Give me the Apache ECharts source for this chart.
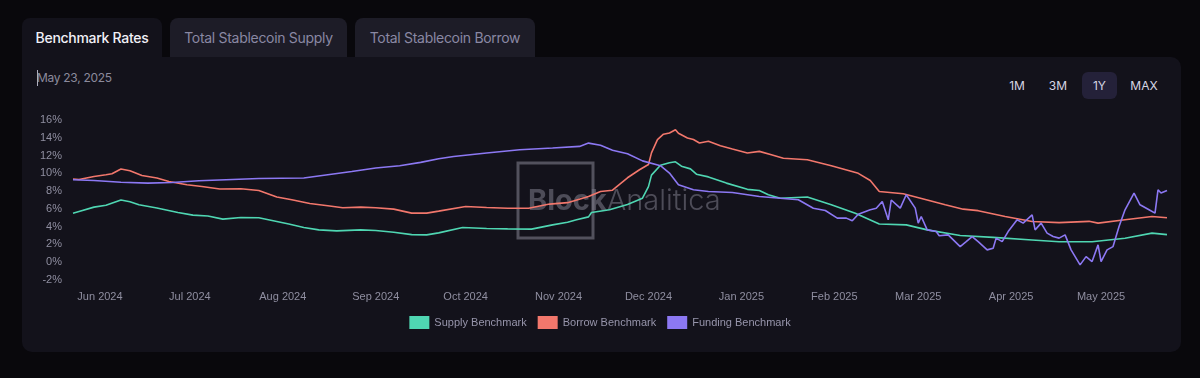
<!DOCTYPE html>
<html><head><meta charset="utf-8">
<script src="https://cdn.jsdelivr.net/npm/echarts@6/dist/echarts.min.js"></script>
<style>
html,body{margin:0;padding:0;background:#09080c;width:1200px;height:378px;overflow:hidden;font-family:Inter,"Noto Sans",sans-serif;}
.tab{position:absolute;top:18px;height:40px;border-radius:8px 8px 0 0;font-size:14px;line-height:39px;box-sizing:border-box;text-align:center;letter-spacing:-0.3px;}
.active{left:22px;width:140px;background:#13121b;color:#f1f0f7;font-weight:500;}
.inact{background:#1d1c27;color:#8a88a3;}
#panel{position:absolute;left:22px;top:57px;width:1159px;height:295px;background:#13121b;border-radius:0 10px 10px 10px;}
#date{position:absolute;left:37px;top:70px;font-size:12px;color:#8b8a9c;letter-spacing:-0.3px;}
#caret{position:absolute;left:37px;top:70px;width:1px;height:16px;background:#b0afc0;}
.btn{position:absolute;top:72px;height:27px;line-height:27px;font-size:12px;color:#d6d5e3;text-align:center;border-radius:6px;}
#chart{position:absolute;left:0;top:0;width:1200px;height:378px;z-index:2;}
</style></head>
<body>
<div class="tab active">Benchmark Rates</div>
<div class="tab inact" style="left:170px;width:177px;">Total Stablecoin Supply</div>
<div class="tab inact" style="left:355px;width:180px;">Total Stablecoin Borrow</div>
<div id="panel"></div>
<div id="caret"></div>
<div id="date">May 23, 2025</div>
<div class="btn" style="left:1002px;width:30px;">1M</div>
<div class="btn" style="left:1043px;width:30px;">3M</div>
<div class="btn" style="left:1082px;width:35px;background:#242139;">1Y</div>
<div class="btn" style="left:1126px;width:36px;">MAX</div>
<div id="chart"></div>
<script>
const seriesNames = ['Supply Benchmark', 'Borrow Benchmark', 'Funding Benchmark'];
const monthTicks = ['2024-06-01','2024-07-01','2024-08-01','2024-09-01','2024-10-01','2024-11-01','2024-12-01','2025-01-01','2025-02-01','2025-03-01','2025-04-01','2025-05-01'];
const monthNames = ['Jan','Feb','Mar','Apr','May','Jun','Jul','Aug','Sep','Oct','Nov','Dec'];

const supplyData = [
['2024-05-23',5.5],['2024-05-25',5.7],['2024-05-30',6.2],['2024-06-03',6.4],['2024-06-08',7.0],['2024-06-11',6.8],
['2024-06-14',6.46],['2024-06-20',6.1],['2024-06-27',5.6],['2024-07-02',5.3],['2024-07-07',5.2],['2024-07-12',4.85],
['2024-07-18',5.03],['2024-07-24',5.0],['2024-07-30',4.58],['2024-08-03',4.3],['2024-08-08',3.9],['2024-08-13',3.64],
['2024-08-19',3.53],['2024-08-27',3.64],['2024-09-01',3.57],['2024-09-07',3.38],['2024-09-13',3.1],['2024-09-18',3.08],
['2024-09-22',3.3],['2024-09-30',3.9],['2024-10-08',3.8],['2024-10-15',3.75],['2024-10-23',3.72],['2024-10-30',4.2],
['2024-11-04',4.5],['2024-11-07',4.77],['2024-11-11',5.1],['2024-11-12',5.6],['2024-11-18',5.9],['2024-11-24',6.5],
['2024-11-29',7.2],['2024-12-01',8.5],['2024-12-02',9.8],['2024-12-05',10.9],['2024-12-08',11.2],['2024-12-10',11.3],
['2024-12-12',10.8],['2024-12-15',10.5],['2024-12-17',9.9],['2024-12-21',9.6],['2024-12-27',8.9],['2025-01-03',8.2],
['2025-01-07',8.07],['2025-01-10',7.6],['2025-01-14',7.2],['2025-01-23',7.33],['2025-01-31',6.46],['2025-02-08',5.5],
['2025-02-16',4.3],['2025-02-25',4.2],['2025-03-04',3.64],['2025-03-15',3.0],['2025-03-26',2.8],['2025-04-08',2.5],
['2025-04-17',2.3],['2025-04-28',2.3],['2025-05-09',2.7],['2025-05-18',3.27],['2025-05-23',3.1]
];
const borrowData = [
['2024-05-23',9.36],['2024-05-25',9.3],['2024-05-30',9.65],['2024-06-03',9.84],['2024-06-05',9.95],['2024-06-08',10.48],
['2024-06-11',10.3],['2024-06-15',9.76],['2024-06-20',9.47],['2024-06-24',9.09],['2024-06-30',8.71],['2024-07-05',8.52],
['2024-07-11',8.23],['2024-07-18',8.26],['2024-07-24',8.07],['2024-07-30',7.33],['2024-08-04',7.02],['2024-08-10',6.6],
['2024-08-16',6.35],['2024-08-21',6.12],['2024-08-27',6.2],['2024-09-01',6.12],['2024-09-07',5.97],['2024-09-13',5.52],
['2024-09-18',5.52],['2024-09-22',5.75],['2024-10-01',6.27],['2024-10-08',6.16],['2024-10-15',6.08],['2024-10-22',6.08],
['2024-10-29',6.54],['2024-11-04',6.7],['2024-11-11',7.4],['2024-11-15',7.96],['2024-11-19',8.1],['2024-11-24',9.5],
['2024-11-28',10.4],['2024-12-01',11.0],['2024-12-02',12.3],['2024-12-04',13.8],['2024-12-06',14.4],['2024-12-08',14.54],
['2024-12-10',14.9],['2024-12-11',14.5],['2024-12-14',13.98],['2024-12-16',13.8],['2024-12-18',13.42],['2024-12-21',13.6],
['2024-12-25',13.11],['2024-12-29',12.74],['2025-01-03',12.29],['2025-01-07',12.47],['2025-01-11',12.1],['2025-01-15',11.7],
['2025-01-23',11.53],['2025-01-31',10.86],['2025-02-09',10.0],['2025-02-13',9.2],['2025-02-16',7.96],['2025-02-24',7.7],
['2025-03-04',7.0],['2025-03-10',6.46],['2025-03-16',5.97],['2025-03-21',5.8],['2025-03-30',5.14],['2025-04-08',4.58],
['2025-04-17',4.46],['2025-04-27',4.6],['2025-04-30',4.4],['2025-05-09',4.77],['2025-05-18',5.14],['2025-05-23',5.0]
];
const fundingData = [
['2024-05-23',9.28],['2024-05-30',9.2],['2024-06-08',9.0],['2024-06-17',8.9],['2024-06-25',8.97],['2024-07-04',9.17],
['2024-07-13',9.28],['2024-07-24',9.42],['2024-08-08',9.47],['2024-08-16',9.84],['2024-08-24',10.2],['2024-09-01',10.6],
['2024-09-09',10.86],['2024-09-16',11.23],['2024-09-22',11.65],['2024-09-27',11.9],['2024-10-08',12.29],['2024-10-19',12.66],
['2024-10-30',12.85],['2024-11-08',13.03],['2024-11-11',13.4],['2024-11-15',13.15],['2024-11-19',12.6],['2024-11-24',12.2],
['2024-11-29',11.4],['2024-12-05',10.86],['2024-12-08',10.03],['2024-12-11',8.71],['2024-12-16',8.15],['2024-12-21',7.96],
['2024-12-29',7.85],['2025-01-07',7.4],['2025-01-14',7.2],['2025-01-20',7.02],['2025-01-25',6.08],['2025-01-29',5.82],
['2025-02-02',4.96],['2025-02-05',4.96],['2025-02-07',4.66],['2025-02-09',5.4],['2025-02-13',5.9],['2025-02-15',6.08],
['2025-02-17',6.83],['2025-02-19',4.77],['2025-02-20',7.0],['2025-02-23',6.08],['2025-02-25',7.59],['2025-02-28',6.08],
['2025-03-01',4.4],['2025-03-02',5.14],['2025-03-04',3.64],['2025-03-07',3.45],['2025-03-08',2.97],['2025-03-11',3.08],
['2025-03-15',1.76],['2025-03-17',2.32],['2025-03-19',2.89],['2025-03-21',2.32],['2025-03-24',1.39],['2025-03-26',1.58],
['2025-03-27',2.71],['2025-03-29',2.32],['2025-03-31',3.45],['2025-04-03',4.77],['2025-04-05',4.4],['2025-04-08',5.33],
['2025-04-09',3.64],['2025-04-11',4.4],['2025-04-13',3.27],['2025-04-15',2.89],['2025-04-17',2.71],['2025-04-19',3.08],
['2025-04-21',1.39],['2025-04-23',0.26],['2025-04-24',-0.3],['2025-04-26',0.63],['2025-04-28',0.07],['2025-04-30',1.95],
['2025-05-01',0.07],['2025-05-03',1.39],['2025-05-05',1.76],['2025-05-07',4.01],['2025-05-09',5.9],['2025-05-12',7.78],
['2025-05-14',6.46],['2025-05-17',5.9],['2025-05-19',5.52],['2025-05-20',8.15],['2025-05-21',7.78],['2025-05-23',8.07]
];
const yTicks = {min: -2, max: 16, interval: 2};
const colors = ['#4fd6b2', '#f2776c', '#8c78f3'];

function ts(s){ const p = s.split('-').map(Number); return Date.UTC(p[0], p[1]-1, p[2]); }
function conv(arr){ return arr.map(d => [ts(d[0]), d[1]]); }

const chart = echarts.init(document.getElementById('chart'), null, {renderer: 'canvas'});
const axisFont = {color: '#8f8ea0', fontSize: 11, fontFamily: '"Liberation Sans", Arial, sans-serif'};
chart.setOption({
  backgroundColor: 'transparent',
  animation: false,
  color: colors,
  grid: {left: 73, right: 33, top: 120, bottom: 98, containLabel: false},
  xAxis: {
    type: 'value',
    min: ts('2024-05-23'), max: ts('2025-05-23'),
    axisLine: {show: false}, axisTick: {show: false}, splitLine: {show: false},
    axisLabel: Object.assign({
      margin: 11,
      showMinLabel: true, showMaxLabel: true,
      customValues: monthTicks.map(ts),
      formatter: function(v){ const d = new Date(v); return monthNames[d.getUTCMonth()] + ' ' + d.getUTCFullYear(); }
    }, axisFont)
  },
  yAxis: {
    type: 'value', min: yTicks.min, max: yTicks.max, interval: yTicks.interval,
    axisLine: {show: false}, axisTick: {show: false}, splitLine: {show: false},
    axisLabel: Object.assign({margin: 11, formatter: '{value}%'}, axisFont)
  },
  legend: {
    top: 311, left: 'center', itemWidth: 20, itemHeight: 13, itemGap: 11, icon: 'rect',
    textStyle: {color: '#9795ab', fontSize: 11, fontFamily: '"Liberation Sans", Arial, sans-serif'},
    data: seriesNames
  },
  graphic: [
    {type: 'rect', z: 0, silent: true, shape: {x: 518, y: 163, width: 75, height: 75},
     style: {fill: 'none', stroke: 'rgba(125,124,138,0.6)', lineWidth: 3}},
    {type: 'text', z: 0, silent: true, left: 528, top: 187,
     style: {text: '{b|Block}{l|Analitica}',
       rich: {b: {fontSize: 29, fontWeight: 'bold', fontFamily: 'Inter, sans-serif', fill: 'rgba(125,124,138,0.55)'},
              l: {fontSize: 29, fontWeight: 300, fontFamily: 'Inter, sans-serif', fill: 'rgba(125,124,138,0.55)'}}}}
  ],
  series: [
    {name: seriesNames[0], type: 'line', showSymbol: false, data: conv(supplyData), lineStyle: {width: 1.6}, z: 3},
    {name: seriesNames[1], type: 'line', showSymbol: false, data: conv(borrowData), lineStyle: {width: 1.6}, z: 3},
    {name: seriesNames[2], type: 'line', showSymbol: false, data: conv(fundingData), lineStyle: {width: 1.6}, z: 4}
  ]
});
</script>
</body></html>
